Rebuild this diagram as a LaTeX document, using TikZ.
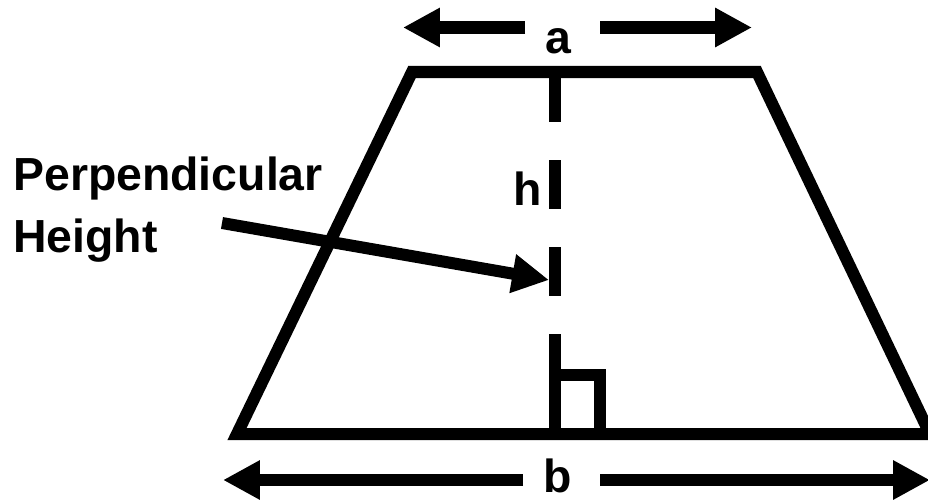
\documentclass[tikz,border=0pt]{standalone}
\usepackage{fontspec}
\setmainfont{Liberation Sans}
\usetikzlibrary{arrows.meta}

\begin{document}
\begin{tikzpicture}[
  x=0.025cm, y=-0.025cm,
  font=\fontsize{33}{44}\selectfont\bfseries,
  edge/.style={draw=black, line width=0.3cm, line join=miter},
  dim/.style={line width=0.3cm, -{Triangle[length=0.92cm, width=0.92cm]}},
  lbl/.style={inner sep=0pt},
]
\useasboundingbox (0,0) rectangle (928,500);
\coordinate (aL) at (403,27.5);
\coordinate (aLs) at (525,27.5);
\coordinate (aRs) at (600,27.5);
\coordinate (aR) at (752,27.5);
\coordinate (bL) at (223,480);
\coordinate (bLs) at (523,480);
\coordinate (bRs) at (600,480);
\coordinate (bR) at (930,480);
\coordinate (ptr) at (222,223);
\coordinate (hgt) at (549,280);
\node[lbl, anchor=base] (lbla) at (558,53) {a};
\node[lbl, anchor=base] (lblb) at (557.5,492) {b};
\node[lbl, anchor=base] (lblh) at (527.5,205) {h};
\node[lbl, anchor=base west, align=left] (perp) at (13,252) {Perpendicular\\Height};
\draw[edge, dash pattern=on 1.225cm off 0.95cm] (555,73) -- (555,434);
\draw[edge] (555,375) rectangle (600,434);
\draw[edge] (412,72) -- (757,72) -- (930,434) -- (237,434) -- cycle;
\draw[dim] (aLs) -- (aL);
\draw[dim] (aRs) -- (aR);
\draw[dim] (bLs) -- (bL);
\draw[dim] (bRs) -- (bR);
\draw[dim] (ptr) -- (hgt);
\end{tikzpicture}
\end{document}
